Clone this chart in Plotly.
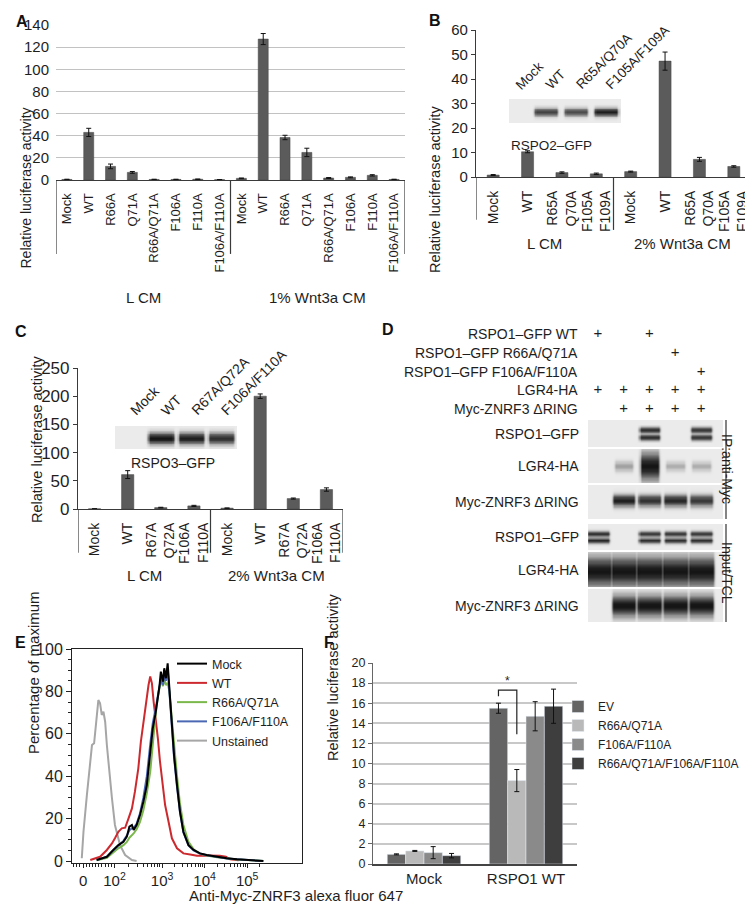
import numpy as np
import plotly.graph_objects as go

# The page body has an 8px margin, so the figure is sized to fill the window after it.
OX, OY = 8, 8
W, H = 753 - OX, 910 - OY
FONT = "Liberation Sans, Arial, sans-serif"
TXT = "#1e1e1e"

# ---------------- Panel A ----------------
a_labels = ["Mock", "WT", "R66A", "Q71A", "R66A/Q71A", "F106A", "F110A", "F106A/F110A"]
a_lcm = [0.5, 43.0, 12.3, 6.9, 0.5, 0.5, 0.7, 0.3]
a_lcm_err = [0.2, 3.7, 2.1, 0.8, 0.2, 0.2, 0.2, 0.1]
a_wnt = [1.5, 127.3, 38.4, 24.9, 1.8, 2.4, 4.2, 0.5]
a_wnt_err = [0.3, 5.0, 2.0, 3.8, 0.4, 0.4, 0.6, 0.2]
a_groups = ["L CM", "1% Wnt3a CM"]

# ---------------- Panel B ----------------
b_labels = ["Mock", "WT", "R65A<br>Q70A", "F105A<br>F109A"]
b_lcm = [0.8, 10.3, 1.8, 1.3]
b_lcm_err = [0.2, 0.4, 0.3, 0.3]
b_wnt = [2.2, 47.3, 7.2, 4.3]
b_wnt_err = [0.2, 3.7, 0.8, 0.3]
b_groups = ["L CM", "2% Wnt3a CM"]
b_blot_lanes = ["Mock", "WT", "R65A/Q70A", "F105A/F109A"]
b_blot_int = [0.0, 0.75, 0.7, 0.95]
b_blot_name = "RSPO2\u2013GFP"

# ---------------- Panel C ----------------
c_labels = ["Mock", "WT", "R67A<br>Q72A", "F106A<br>F110A"]
c_lcm = [0.3, 61.0, 2.5, 5.5]
c_lcm_err = [0.1, 7.0, 0.6, 1.0]
c_wnt = [1.5, 200.0, 18.5, 34.5]
c_wnt_err = [0.3, 4.0, 1.0, 3.0]
c_groups = ["L CM", "2% Wnt3a CM"]
c_blot_lanes = ["Mock", "WT", "R67A/Q72A", "F106A/F110A"]
c_blot_int = [0.0, 1.0, 0.95, 0.85]
c_blot_name = "RSPO3\u2013GFP"

# ---------------- Panel D ----------------
d_conditions = ["RSPO1\u2013GFP WT", "RSPO1\u2013GFP R66A/Q71A", "RSPO1\u2013GFP F106A/F110A",
                "LGR4-HA", "Myc-ZNRF3 \u0394RING"]
d_plus = [[1, 0, 1, 0, 0],
          [0, 0, 0, 1, 0],
          [0, 0, 0, 0, 1],
          [1, 1, 1, 1, 1],
          [0, 1, 1, 1, 1]]
d_blot_names = ["RSPO1\u2013GFP", "LGR4-HA", "Myc-ZNRF3 \u0394RING",
                "RSPO1\u2013GFP", "LGR4-HA", "Myc-ZNRF3 \u0394RING"]
d_blot_int = [[0.0, 0.0, 0.85, 0.0, 0.8],
              [0.0, 0.3, 1.0, 0.25, 0.25],
              [0.0, 0.95, 0.85, 0.9, 0.8],
              [0.9, 0.0, 0.85, 0.85, 0.85],
              [1.0, 1.0, 1.0, 1.0, 1.0],
              [0.0, 1.0, 1.0, 1.0, 1.0]]
d_sections = ["IP:anti-Myc", "Input/TCL"]

# ---------------- Panel E ----------------
e_tickvals = [1.14, 1.88, 3.0, 4.0, 5.0]
e_ticktext = ["0", "10<sup>2</sup>", "10<sup>3</sup>", "10<sup>4</sup>", "10<sup>5</sup>"]
e_unst_x = [1.11, 1.15, 1.23, 1.31, 1.35, 1.40, 1.45, 1.50, 1.54, 1.58, 1.62, 1.66, 1.70,
            1.74, 1.82, 1.89, 2.01, 2.13, 2.29, 2.40]
e_unst_y = [1.3, 13.8, 31.1, 48.4, 54.7, 55.5, 64.2, 75.9, 74.4, 68.9, 70.4, 65.7, 54.7,
            45.3, 29.6, 17.0, 7.5, 2.8, 0.5, 0.0]
e_wt_x = [1.31, 1.54, 1.70, 1.82, 1.89, 1.97, 2.05, 2.13, 2.21, 2.29, 2.36, 2.44, 2.50, 2.56,
          2.62, 2.68, 2.72, 2.76, 2.80, 2.84, 2.90, 2.95, 3.02, 3.07, 3.15, 3.23, 3.35, 3.50,
          3.66, 3.82, 4.05, 4.36, 4.50, 4.60, 4.80]
e_wt_y = [0.5, 2.0, 5.2, 8.3, 10.7, 13.8, 15.4, 15.7, 20.1, 24.8, 32.7, 43.7, 56.3, 65.7,
          75.2, 83.0, 87.0, 83.8, 75.2, 68.9, 57.9, 46.9, 35.8, 26.4, 18.6, 10.7, 6.0, 3.6,
          3.1, 2.5, 2.6, 2.5, 2.0, 0.8, 0.3]
e_x = [1.46, 1.70, 1.85, 1.97, 2.09, 2.17, 2.23, 2.29, 2.33, 2.40, 2.48, 2.56, 2.64, 2.72,
       2.78, 2.84, 2.89, 2.94, 2.97, 3.02, 3.05, 3.09, 3.13, 3.17, 3.23, 3.28, 3.35, 3.42,
       3.50, 3.62, 3.74, 3.89, 4.05, 4.29, 4.52, 4.76, 5.23, 5.38]
e_mock_y = [0.5, 2.0, 5.2, 7.5, 9.1, 11.5, 16.2, 17.0, 14.6, 17.0, 21.7, 28.0, 35.8, 50.0,
            62.6, 68.9, 75.2, 83.0, 89.3, 84.6, 90.9, 86.2, 93.2, 81.4, 62.6, 50.0, 35.8,
            23.3, 13.8, 7.5, 5.2, 3.6, 2.8, 2.0, 1.3, 0.8, 0.3, 0.0]
e_r66_y = [0.3, 1.5, 4.0, 6.0, 7.5, 9.0, 11.0, 12.0, 13.0, 15.0, 18.5, 24.0, 32.0, 42.0,
           56.0, 68.0, 76.0, 82.0, 85.5, 82.5, 86.0, 83.0, 84.0, 80.0, 66.0, 54.0, 40.0,
           27.0, 17.0, 9.0, 5.5, 3.5, 2.6, 1.8, 1.2, 0.7, 0.2, 0.0]
e_f106_y = [0.4, 2.0, 5.0, 7.5, 9.5, 12.0, 14.5, 15.5, 15.5, 17.5, 22.5, 30.0, 40.0, 55.0,
            65.0, 71.0, 77.0, 83.0, 86.0, 83.0, 88.0, 85.0, 91.0, 80.0, 62.0, 49.0, 35.0,
            23.0, 13.5, 7.3, 5.0, 3.5, 2.7, 1.9, 1.2, 0.8, 0.3, 0.0]
e_names = ["Mock", "WT", "R66A/Q71A", "F106A/F110A", "Unstained"]
e_colors = ["#000000", "#cc2a2f", "#7bb84b", "#4a68b3", "#a6a6a6"]

# ---------------- Panel F ----------------
f_cats = ["Mock", "RSPO1 WT"]
f_series = ["EV", "R66A/Q71A", "F106A/F110A", "R66A/Q71A/F106A/F110A"]
f_vals = [[0.96, 15.5], [1.3, 8.3], [1.13, 14.7], [0.83, 15.7]]
f_errs = [[0.05, 0.5], [0.05, 1.1], [0.6, 1.45], [0.22, 1.7]]
f_colors = ["#646464", "#b9b9b9", "#8a8a8a", "#3e3e3e"]


# ---------------- helpers (window pixels -> paper fractions) ----------------
def px(x):
    return (x - OX) / W


def py(y):
    return 1 - (y - OY) / H


def xdom(x0, x1):
    return [px(x0), px(x1)]


def ydom(top, bot):
    return [py(bot), py(top)]


def blot_image(intens, x_lo, x_hi, centers, sigma, half_w=0.33):
    """Render lane band intensities as a smooth gel image (style only)."""
    xs = np.arange(x_lo, x_hi + 0.02, 0.04)
    ys = np.linspace(0, 1, 31)
    sig = sigma if isinstance(sigma, (list, tuple)) else [sigma] * len(intens)
    z = np.zeros((len(ys), len(xs)))
    for li, v in enumerate(intens):
        lane = li + 1
        d = np.abs(xs - lane)
        hp = np.where(d < half_w, 1.0, np.exp(-((d - half_w) / 0.08) ** 2))
        vp = np.zeros_like(ys)
        for c in centers:
            vp += np.exp(-((ys - c) / sig[li]) ** 2)
        vp = np.clip(vp, 0, 1)
        z += v * np.outer(vp, hp)
    return xs, ys, np.clip(z, 0, 1)


BLOT_SCALE = [[0, "#ebebeb"], [0.5, "#707070"], [1, "#151515"]]

fig = go.Figure()
annotations = []
shapes = []
layout = dict(width=W, height=H, margin=dict(l=0, r=0, t=0, b=0, autoexpand=False),
              paper_bgcolor="white", plot_bgcolor="rgba(0,0,0,0)",
              font=dict(family=FONT, color=TXT, size=14), showlegend=True)


def hidden_axes(n, xd, yd, xr, yr):
    layout[f"xaxis{n}"] = dict(domain=xd, range=xr, visible=False, fixedrange=True,
                               anchor=f"y{n}", automargin=False)
    layout[f"yaxis{n}"] = dict(domain=yd, range=yr, visible=False, fixedrange=True,
                               anchor=f"x{n}", automargin=False)


def add_blot(n, intens, xr, centers, sigma, half_w=0.33):
    xs, ys, z = blot_image(intens, xr[0], xr[1], centers, sigma, half_w)
    fig.add_trace(go.Heatmap(x=xs, y=ys, z=z, colorscale=BLOT_SCALE, zmin=0, zmax=1,
                             showscale=False, zsmooth="best", hoverinfo="skip",
                             xaxis=f"x{n}", yaxis=f"y{n}"))


def bar_panel(n, labels, lcm, lcm_err, wnt, wnt_err, groups, xd, yd, yr, dtick, width,
              tickfont, yfont, gridded, sep_depth, group_y, title_x, title_y, title_size):
    cats = list(range(2 * len(labels)))
    sfx = n if n > 1 else ""
    fig.add_trace(go.Bar(x=cats, y=lcm + wnt, width=width, marker_color="#5b5b5b",
                         marker_line=dict(color="#444444", width=0.5),
                         error_y=dict(type="data", array=lcm_err + wnt_err, color="#111111",
                                      thickness=1, width=2.5),
                         showlegend=False, hoverinfo="skip",
                         xaxis=f"x{sfx}", yaxis=f"y{sfx}"))
    layout[f"xaxis{sfx}"] = dict(domain=xd, range=[-0.5, len(cats) - 0.5], tickmode="array",
                                 tickvals=cats, ticktext=labels * 2, tickangle=-90,
                                 tickfont=dict(size=tickfont), showline=True, linecolor="#3a3a3a",
                                 linewidth=1.2, ticks="", showgrid=False, zeroline=False,
                                 fixedrange=True, anchor=f"y{sfx}", ticklabelstandoff=7,
                                 automargin=False)
    ya = dict(domain=yd, range=yr, dtick=dtick, tickfont=dict(size=yfont), zeroline=False,
              fixedrange=True, anchor=f"x{sfx}", automargin=False)
    if gridded:
        ya.update(showgrid=True, gridcolor="#c2c2c2", gridwidth=1, showline=False, ticks="",
                  ticklabelstandoff=6)
    else:
        ya.update(showgrid=False, showline=True, linecolor="#3a3a3a", linewidth=1.2,
                  ticks="outside", ticklen=4, tickcolor="#3a3a3a")
    layout[f"yaxis{sfx}"] = ya
    half = len(labels)
    for xv in [-0.5, half - 0.5, 2 * half - 0.5]:
        shapes.append(dict(type="line", xref=f"x{sfx}", yref=f"y{sfx} domain", x0=xv, x1=xv,
                           y0=0, y1=-sep_depth[1] if xv == half - 0.5 else -sep_depth[0],
                           line=dict(color="#3a3a3a", width=1.2)))
    for gi, g in enumerate(groups):
        annotations.append(dict(text=g, xref=f"x{sfx}", yref="paper",
                                x=(half - 1) / 2 + gi * half, y=py(group_y),
                                showarrow=False, font=dict(size=15)))
    annotations.append(dict(text="Relative luciferase activity", textangle=-90, xref="paper",
                            yref="paper", x=px(title_x), y=py(title_y), showarrow=False,
                            font=dict(size=title_size)))


# Panel A
bar_panel(1, a_labels, a_lcm, a_lcm_err, a_wnt, a_wnt_err, a_groups, xdom(56, 405),
          ydom(25, 180), [0, 140], 20, 0.46, 13, 15, True, (0.477, 0.477), 287, 15, 106, 14)
# Panel B
bar_panel(2, b_labels, b_lcm, b_lcm_err, b_wnt, b_wnt_err, b_groups, xdom(476, 751),
          ydom(30, 177), [0, 60], 10, 0.35, 14, 15, False, (0.29, 0.36), 233, 435, 103, 14.5)
# Panel C
bar_panel(4, c_labels, c_lcm, c_lcm_err, c_wnt, c_wnt_err, c_groups, xdom(78, 343),
          ydom(368, 509), [0, 250], 50, 0.37, 14, 17, False, (0.31, 0.31), 575, 27, 439, 14.5)

# B inset blot
b_xr = [0.77, 4.5]
hidden_axes(3, xdom(509, 621), ydom(99, 123), b_xr, [0, 1])
add_blot(3, b_blot_int, b_xr, [0.46], 0.16, 0.32)
for i, lab in enumerate(b_blot_lanes):
    annotations.append(dict(text=lab, textangle=-45, xref="x3", yref="paper", x=i + 1 - 0.2,
                            y=py(95), xanchor="left", yanchor="bottom", showarrow=False,
                            font=dict(size=13.5)))
annotations.append(dict(text=b_blot_name, xref="x3", yref="paper", x=2.2, y=py(136),
                        showarrow=False, font=dict(size=13.5)))

# C inset blot
c_xr = [0.47, 4.53]
hidden_axes(5, xdom(115, 237), ydom(426, 449), c_xr, [0, 1])
add_blot(5, c_blot_int, c_xr, [0.47], 0.24, 0.36)
for i, lab in enumerate(c_blot_lanes):
    annotations.append(dict(text=lab, textangle=-45, xref="x5", yref="paper", x=i + 1 - 0.2,
                            y=py(421), xanchor="left", yanchor="bottom", showarrow=False,
                            font=dict(size=14)))
annotations.append(dict(text=c_blot_name, xref="x5", yref="paper", x=2.4, y=py(463),
                        showarrow=False, font=dict(size=14)))

# Panel D header (+ marks)
d_xr = [0.612, 5.854]
hidden_axes(6, xdom(588, 723), ydom(325, 418.5), d_xr, [len(d_conditions) - 0.5, -0.5])
pxs, pys = [], []
for r, row in enumerate(d_plus):
    for c, v in enumerate(row):
        if v:
            pxs.append(c + 1)
            pys.append(r)
fig.add_trace(go.Scatter(x=pxs, y=pys, mode="text", text=["+"] * len(pxs),
                         textfont=dict(size=15, color=TXT), showlegend=False,
                         hoverinfo="skip", xaxis="x6", yaxis="y6"))
for r, lab in enumerate(d_conditions):
    annotations.append(dict(text=lab, xref="paper", yref="y6", x=px(580), y=r,
                            xanchor="right", showarrow=False, font=dict(size=14)))

d_boxes = [(420, 447), (449, 483), (485, 519), (524, 550), (552, 587), (589, 622)]
d_centers = [[0.36, 0.64], [0.5], [0.55], [0.37, 0.63], [0.45], [0.5]]
d_sigmas = [0.1, [0.14, 0.14, 0.38, 0.13, 0.13], 0.16, 0.1, 0.4, 0.3]
d_halfw = [0.33, 0.3, 0.37, 0.35, 0.42, 0.4]
for k in range(6):
    n = 7 + k
    hidden_axes(n, xdom(588, 723), ydom(*d_boxes[k]), d_xr, [0, 1])
    add_blot(n, d_blot_int[k], d_xr, d_centers[k], d_sigmas[k], d_halfw[k])
    annotations.append(dict(text=d_blot_names[k], xref="paper", yref=f"y{n} domain",
                            x=px(581), y=0.5, xanchor="right", showarrow=False,
                            font=dict(size=14)))
for (t0, t1), lab, ty in zip([(420, 519), (524, 622)], d_sections, [469, 573]):
    shapes.append(dict(type="line", xref="paper", yref="paper", x0=px(726), x1=px(726),
                       y0=py(t0), y1=py(t1), line=dict(color="#333", width=1.2)))
    annotations.append(dict(text=lab, textangle=90, xref="paper", yref="paper", x=px(737),
                            y=py(ty), showarrow=False, font=dict(size=14)))

# Panel E
e_minor = []
for k in range(2, 10):
    e_minor.append(1.88 + 1.12 * np.log10(k))
    e_minor.append(3.0 + np.log10(k))
    e_minor.append(4.0 + np.log10(k))
    e_minor.append(5.0 + np.log10(k))
for k in range(1, 10):
    e_minor.append(1.14 + 0.074 * k)
for k in range(1, 4):
    e_minor.append(1.14 - 0.074 * k)
e_minor = [float(v) for v in e_minor if 0.9 < v < 5.45]

e_series = [(e_unst_x, e_unst_y, 4), (e_wt_x, e_wt_y, 1), (e_x, e_r66_y, 2),
            (e_x, e_f106_y, 3), (e_x, e_mock_y, 0)]
for xs, ys, idx in e_series:
    fig.add_trace(go.Scatter(x=xs, y=ys, mode="lines", name=e_names[idx],
                             line=dict(color=e_colors[idx], width=2), legend="legend2",
                             legendrank=idx + 1, hoverinfo="skip", xaxis="x13", yaxis="y13"))
layout["xaxis13"] = dict(domain=xdom(72, 302), range=[0.88, 6.29], tickmode="array",
                         tickvals=e_tickvals, ticktext=e_ticktext, ticks="outside", ticklen=4,
                         tickcolor="#222", showline=True, linecolor="#222", linewidth=1,
                         mirror=True, showgrid=False, zeroline=False, tickfont=dict(size=15),
                         minor=dict(tickmode="array", tickvals=e_minor, ticks="outside",
                                    ticklen=3, tickcolor="#222"),
                         fixedrange=True, anchor="y13", automargin=False)
layout["yaxis13"] = dict(domain=ydom(649, 863), range=[-0.94, 100], dtick=20, ticks="outside",
                         ticklen=5, tickcolor="#222", showline=True, linecolor="#222",
                         linewidth=1, mirror=True, showgrid=False, zeroline=False,
                         tickfont=dict(size=16),
                         minor=dict(dtick=5, ticks="outside", ticklen=3, tickcolor="#222"),
                         fixedrange=True, anchor="x13", automargin=False)
layout["legend2"] = dict(x=px(172), y=py(649), xanchor="left", yanchor="top",
                         bgcolor="rgba(0,0,0,0)", font=dict(size=12.5), tracegroupgap=0,
                         itemwidth=30, traceorder="normal")
annotations.append(dict(text="Percentage of maximum", textangle=-90, xref="paper",
                        yref="paper", x=px(23), y=py(756), showarrow=False,
                        font=dict(size=15)))
annotations.append(dict(text="Anti-Myc-ZNRF3 alexa fluor 647", xref="paper", yref="paper",
                        x=px(187), y=py(906), showarrow=False, font=dict(size=15)))

# Panel F
f_offsets = [-0.36, -0.18, 0.0, 0.18]
for si, name in enumerate(f_series):
    fig.add_trace(go.Bar(x=list(range(len(f_cats))), y=f_vals[si], name=name, width=0.18,
                         offset=f_offsets[si], marker_color=f_colors[si],
                         error_y=dict(type="data", array=f_errs[si], color="#111",
                                      thickness=1, width=2.5),
                         legend="legend", hoverinfo="skip", xaxis="x14", yaxis="y14"))
layout["xaxis14"] = dict(domain=xdom(373, 577), range=[-0.5, 1.5], tickmode="array",
                         tickvals=[0, 1], ticktext=f_cats, ticks="", showline=True,
                         linecolor="#444", linewidth=1.5, showgrid=False, zeroline=False,
                         tickfont=dict(size=15), fixedrange=True, anchor="y14",
                         automargin=False)
layout["yaxis14"] = dict(domain=ydom(663, 864), range=[0, 20], dtick=2, showgrid=True,
                         gridcolor="#c8c8c8", gridwidth=1.5, showline=True, linecolor="#666",
                         linewidth=1, ticks="outside", ticklen=4, tickcolor="#666",
                         zeroline=False, tickfont=dict(size=12.5), fixedrange=True,
                         anchor="x14", automargin=False)
layout["legend"] = dict(x=px(558), y=py(692), xanchor="left", yanchor="top",
                        bgcolor="rgba(0,0,0,0)", font=dict(size=12), tracegroupgap=0,
                        itemwidth=30, traceorder="normal")
# significance bracket between EV and R66A/Q71A in RSPO1 WT group
ev_c = 1 + f_offsets[0] + 0.09
r66_c = 1 + f_offsets[1] + 0.09
shapes.append(dict(type="path", xref="x14", yref="y14",
                   path=f"M {ev_c},16.7 L {ev_c},17.3 L {r66_c},17.3 L {r66_c},12.9",
                   line=dict(color="#222", width=1.2)))
annotations.append(dict(text="*", xref="x14", yref="y14", x=(ev_c + r66_c) / 2, y=17.3,
                        yanchor="bottom", showarrow=False, font=dict(size=12)))
annotations.append(dict(text="Relative luciferase activity", textangle=-90, xref="paper",
                        yref="paper", x=px(333), y=py(763), showarrow=False,
                        font=dict(size=14.5)))

# Panel letters
for letter, (lx, ly) in zip("ABCDEF", [(14, 11), (435, 10), (13, 332), (388, 330),
                                        (13, 653), (329, 653)]):
    annotations.append(dict(text=f"<b>{letter}</b>", xref="paper", yref="paper", x=px(lx),
                            y=py(ly), showarrow=False, font=dict(size=16, color="#111")))

layout["annotations"] = annotations
layout["shapes"] = shapes
fig.update_layout(**layout)
fig.write_html("out.html")
